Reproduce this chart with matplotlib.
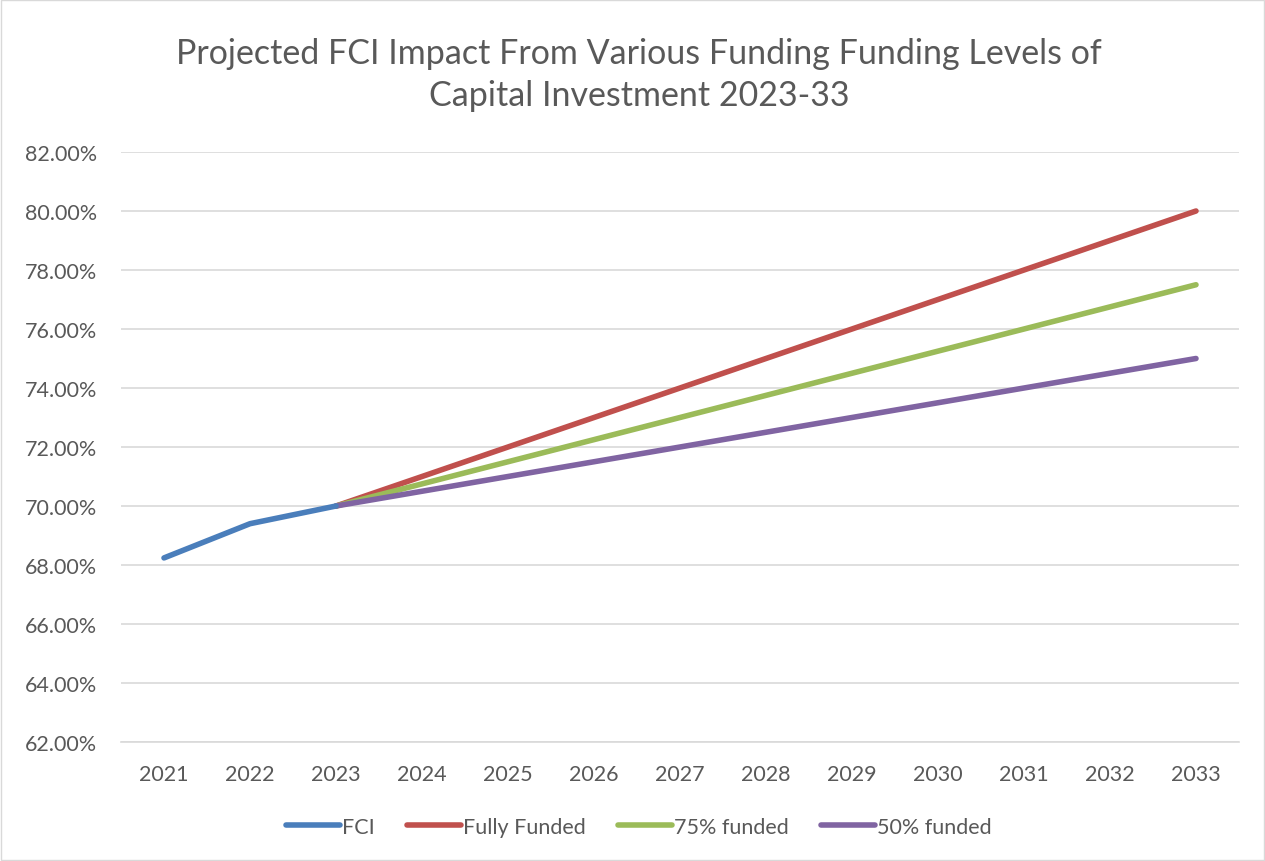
import matplotlib
matplotlib.use("Agg")
import matplotlib.pyplot as plt
from matplotlib.ticker import FuncFormatter, MultipleLocator

years = ["2021", "2022", "2023", "2024", "2025", "2026", "2027", "2028", "2029", "2030", "2031", "2032", "2033"]
fci = [68.24, 69.40, 70.00]
fully_funded = [None, None, 70.0, 71.0, 72.0, 73.0, 74.0, 75.0, 76.0, 77.0, 78.0, 79.0, 80.0]
funded_75 = [None, None, 70.0, 70.75, 71.5, 72.25, 73.0, 73.75, 74.5, 75.25, 76.0, 76.75, 77.5]
funded_50 = [None, None, 70.0, 70.5, 71.0, 71.5, 72.0, 72.5, 73.0, 73.5, 74.0, 74.5, 75.0]

plt.rcParams['font.family'] = ['Lato', 'DejaVu Sans']
txt = '#595959'

fig = plt.figure(figsize=(12.65, 8.62), dpi=100)
ax = fig.add_axes([121/1265, 1 - 743/862, (1239-121)/1265, (743-153)/862])

x = list(range(len(years)))
def pts(vals):
    xs = [i for i, v in enumerate(vals) if v is not None]
    ys = [v for v in vals if v is not None]
    return xs, ys

lw = 4.0
ax.plot(*pts(fully_funded), color='#C0504D', lw=lw, solid_capstyle='round', label='Fully Funded', zorder=3)
ax.plot(*pts(funded_75), color='#9BBB59', lw=lw, solid_capstyle='round', label='75% funded', zorder=4)
ax.plot(*pts(funded_50), color='#8064A2', lw=lw, solid_capstyle='round', label='50% funded', zorder=5)
ax.plot(range(len(fci)), fci, color='#4A7EBB', lw=lw, solid_capstyle='round', label='FCI', zorder=6)

ax.set_xlim(-0.5, 12.5)
ax.set_ylim(62, 82)
ax.yaxis.set_major_locator(MultipleLocator(2))
ax.yaxis.set_major_formatter(FuncFormatter(lambda v, p: f"{v:.2f}%"))
ax.set_xticks(x)
ax.set_xticklabels(years)
ax.grid(axis='y', color='#D9D9D9', lw=1.2)
ax.set_axisbelow(True)
for s in ['top', 'right', 'left']:
    ax.spines[s].set_visible(False)
ax.spines['bottom'].set_color('#D9D9D9')
ax.spines['bottom'].set_linewidth(1.2)
ax.tick_params(axis='both', length=0, labelsize=15.5, colors=txt)
ax.tick_params(axis='x', pad=16)
ax.tick_params(axis='y', pad=17)

fig.text(0.505, 1 - 75/862, "Projected FCI Impact From Various Funding Funding Levels of\nCapital Investment 2023-33",
         ha='center', va='center', fontsize=24.5, color=txt, linespacing=1.42)

h, l = ax.get_legend_handles_labels()
order = [3, 0, 1, 2]
leg = fig.legend([h[i] for i in order], [l[i] for i in order], loc='center', bbox_to_anchor=(0.505, 1 - 828/862),
                 ncol=4, frameon=False, fontsize=15.5, handlelength=2.5, handletextpad=0.1, columnspacing=1.5)
for t in leg.get_texts():
    t.set_color(txt)

fig.patches.append(plt.Rectangle((0.001, 0.001), 0.998, 0.998, transform=fig.transFigure,
                                 fill=False, edgecolor='#D9D9D9', lw=1))
fig.savefig("out.png", dpi=100)
